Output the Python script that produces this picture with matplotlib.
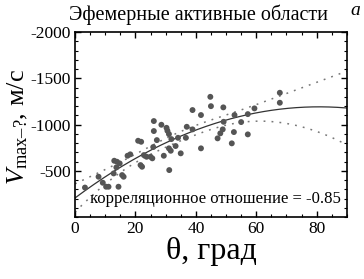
"""Ephemeral active regions: V_max vs theta with quadratic fit and confidence band."""

import matplotlib

matplotlib.use("Agg")
import matplotlib.pyplot as plt
import numpy as np
from matplotlib.ticker import MultipleLocator

plt.rcParams["font.family"] = ["Liberation Serif", "DejaVu Serif"]
plt.rcParams["mathtext.fontset"] = "custom"
plt.rcParams["mathtext.it"] = "Liberation Serif:italic"
plt.rcParams["mathtext.rm"] = "Liberation Serif"
plt.rcParams["axes.unicode_minus"] = False

# data (theta in degrees, V in m/s)
theta = [
    3.3, 7.8, 9.2, 10.3, 11.1, 12.8, 13.0, 13.9, 14.8, 13.7,
    15.6, 16.1, 14.4, 17.4, 18.3, 20.9, 21.9, 22.8, 23.7, 22.2,
    21.7, 25.9, 25.0, 25.6, 26.1, 26.1, 27.1, 28.6, 30.3, 30.6,
    31.1, 29.4, 31.1, 31.7, 31.2, 31.9, 33.3, 34.1, 35.0, 36.7,
    37.0, 38.9, 38.9, 41.7, 41.7, 44.8, 45.0, 49.1, 52.8, 57.2,
    59.4, 55.0, 49.2, 48.9, 48.1, 47.2, 52.6, 51.9, 57.2, 67.8,
    67.8,
]
v_max = [
    -319, -436, -371, -328, -328, -472, -609, -598, -580, -537,
    -454, -436, -328, -663, -678, -825, -814, -670, -652, -544,
    -562, -757, -652, -635, -1038, -930, -832, -998, -965, -933,
    -897, -663, -743, -717, -508, -843, -768, -857, -689, -857,
    -976, -948, -1157, -1103, -743, -1300, -1199, -1186, -1103, -1113,
    -1175, -1027, -1030, -948, -905, -851, -919, -797, -894, -1344,
    -1236,
]

title = "Эфемерные активные области"
note = "корреляционное отношение = -0.85"


def main() -> None:
    x = np.asarray(theta, dtype=float)
    y = np.asarray(v_max, dtype=float)

    # quadratic least squares fit and 95% confidence band of the mean
    design = np.vander(x, 3)
    coef, *_ = np.linalg.lstsq(design, y, rcond=None)
    resid = y - design @ coef
    s2 = resid @ resid / (len(x) - 3)
    cov = s2 * np.linalg.inv(design.T @ design)

    xs = np.linspace(0, 90, 200)
    xd = np.vander(xs, 3)
    fit = xd @ coef
    se = np.sqrt(np.einsum("ij,jk,ik->i", xd, cov, xd))
    upper = fit - 2.0 * se
    lower = fit + 2.0 * se

    fig = plt.figure(figsize=(3.64, 2.79), dpi=100)
    ax = fig.add_axes([0.206, 0.222, 0.747, 0.663])

    ax.plot(xs, upper, color="#777777", linestyle=(0, (1.2, 4)), linewidth=1.1)
    ax.plot(xs, lower, color="#777777", linestyle=(0, (1.2, 4)), linewidth=1.1)
    ax.plot(xs, fit, color="#333333", linewidth=0.9)
    ax.scatter(x, y, s=18, color="#555555", edgecolors="none", zorder=3)

    ax.set_xlim(0, 90)
    ax.set_ylim(0, -2000)
    ax.set_yticks([-2000, -1500, -1000, -500])
    ax.set_xticks([0, 20, 40, 60, 80])
    ax.xaxis.set_minor_locator(MultipleLocator(5))
    ax.yaxis.set_minor_locator(MultipleLocator(100))
    ax.tick_params(which="both", direction="in", top=True, right=True,
                   labelsize=12.5, pad=3)
    ax.tick_params(which="major", length=4, width=1.0)
    ax.tick_params(which="minor", length=2, width=0.8)
    for spine in ax.spines.values():
        spine.set_linewidth(1.2)

    ax.text(0.515, 0.10, note, transform=ax.transAxes, ha="center",
            va="center", fontsize=12)
    ax.set_xlabel("θ, град", fontsize=23, labelpad=0)

    fig.text(0.544, 0.946, title, ha="center", va="center", fontsize=14.5)
    fig.text(0.975, 0.964, "a", ha="center", va="center", fontsize=14,
             style="italic")
    fig.text(0.048, 0.545, r"$V_{\mathrm{max–?}}$, м/с", rotation=90,
             ha="center", va="center", fontsize=19)

    fig.savefig("out.png", dpi=100)
    plt.close(fig)


if __name__ == "__main__":
    main()
